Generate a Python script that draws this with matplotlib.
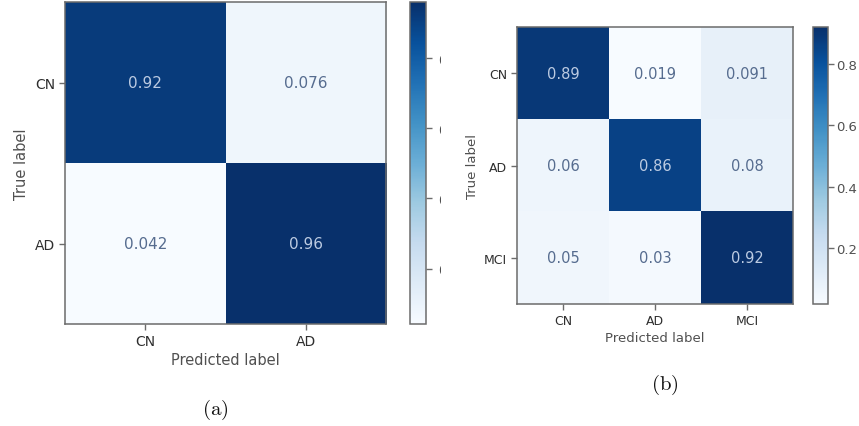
import numpy as np
import matplotlib
matplotlib.use("Agg")
import matplotlib.pyplot as plt
from matplotlib.transforms import Bbox, TransformedBbox

plt.rcParams["mathtext.fontset"] = "cm"

# Binary classifier: CN vs AD
classes_a = ["CN", "AD"]
cm_a = [[0.92, 0.076],
        [0.042, 0.96]]
labels_a = [["0.92", "0.076"],
            ["0.042", "0.96"]]

# Three-class classifier: CN / AD / MCI
classes_b = ["CN", "AD", "MCI"]
cm_b = [[0.89, 0.019, 0.091],
        [0.06, 0.86, 0.08],
        [0.05, 0.03, 0.92]]
labels_b = [["0.89", "0.019", "0.091"],
            ["0.06", "0.86", "0.08"],
            ["0.05", "0.03", "0.92"]]

cbar_ticks = [0.2, 0.4, 0.6, 0.8]
cbar_ticklabels = ["0.2", "0.4", "0.6", "0.8"]

W, H = 859, 427
fig = plt.figure(figsize=(W / 100, H / 100), dpi=100)


def px_axes(x0, y0, x1, y1):
    return fig.add_axes([x0 / W, 1 - y1 / H, (x1 - x0) / W, (y1 - y0) / H])


SPINE = "#6b6b6b"
TICK_TXT = "#2e2e2e"
LABEL_TXT = "#505050"
TXT_ON_DARK = "#bccbe2"
TXT_ON_LIGHT = "#566c8f"


def confusion(ax, cax, mat, txt, classes, cell_fs, tick_fs, label_fs, cb_fs,
              cb_pad=2):
    mat = np.asarray(mat, dtype=float)
    vmin, vmax = mat.min(), mat.max()
    im = ax.imshow(mat, cmap="Blues", vmin=vmin, vmax=vmax,
                   aspect="auto", interpolation="nearest")
    thresh = (vmin + vmax) / 2
    n = len(classes)
    for i in range(n):
        for j in range(n):
            col = TXT_ON_DARK if mat[i, j] > thresh else TXT_ON_LIGHT
            ax.text(j, i, txt[i][j], ha="center", va="center",
                    color=col, fontsize=cell_fs)
    ax.set_xticks(range(n))
    ax.set_yticks(range(n))
    ax.set_xticklabels(classes, fontsize=tick_fs, color=TICK_TXT)
    ax.set_yticklabels(classes, fontsize=tick_fs, color=TICK_TXT)
    ax.set_xlabel("Predicted label", fontsize=label_fs, color=LABEL_TXT,
                  labelpad=3)
    ax.set_ylabel("True label", fontsize=label_fs, color=LABEL_TXT)
    ax.tick_params(color=SPINE, length=4, width=1, pad=3)
    for s in ax.spines.values():
        s.set_color(SPINE)
        s.set_linewidth(1.1)

    cb = fig.colorbar(im, cax=cax)
    cb.set_ticks(cbar_ticks)
    cb.set_ticklabels(cbar_ticklabels)
    cb.outline.set_edgecolor(SPINE)
    cb.outline.set_linewidth(1.1)
    cax.tick_params(color=SPINE, length=4, width=1, pad=cb_pad,
                    labelsize=cb_fs, labelcolor=LABEL_TXT)
    return cb


ax_a = px_axes(65, 3, 386, 325)
cax_a = px_axes(410, 3, 426, 325)
confusion(ax_a, cax_a, cm_a, labels_a, classes_a,
          cell_fs=11, tick_fs=10, label_fs=10.5, cb_fs=10, cb_pad=5)

ax_b = px_axes(517, 28, 793, 305)
cax_b = px_axes(813, 28, 828, 305)
confusion(ax_b, cax_b, cm_b, labels_b, classes_b,
          cell_fs=10.5, tick_fs=9, label_fs=9.5, cb_fs=9.5)

# The left panel is trimmed just past its colorbar tick marks
fig.canvas.draw()
clip = TransformedBbox(Bbox.from_extents(0, 0, 440.5 / W, 1), fig.transFigure)
for lab in cax_a.get_yticklabels():
    lab.set_clip_on(True)
    lab.set_clip_box(clip)

fig.text(215 / W, 1 - 410 / H, r"$\mathrm{(a)}$", ha="center", va="center",
         fontsize=15, color="#111111")
fig.text(665 / W, 1 - 385 / H, r"$\mathrm{(b)}$", ha="center", va="center",
         fontsize=15, color="#111111")

fig.savefig("out.png", dpi=100, facecolor="white")
